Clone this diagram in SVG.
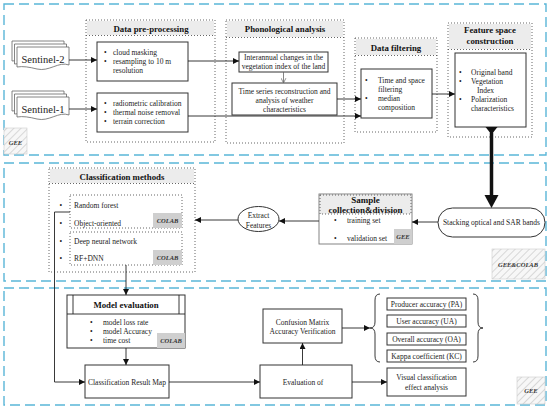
<svg xmlns="http://www.w3.org/2000/svg" width="550" height="409" viewBox="0 0 550 409">
<style>
text{font-family:"Liberation Serif","Times New Roman",serif;font-size:7.5px;fill:#222}
.t{font-weight:bold;font-size:8.8px;fill:#111}
.c{text-anchor:middle}
.sec{fill:none;stroke:#5ab6d8;stroke-width:1.4;stroke-dasharray:10 5}
.dot{fill:none;stroke:#555;stroke-width:0.9;stroke-dasharray:1 2}
.hd{fill:#ececec;stroke:none}
.bx{fill:#fff;stroke:#333;stroke-width:1}
.ln{fill:none;stroke:#222;stroke-width:0.9}
.bd{font-weight:bold;font-style:italic;font-size:6.5px;fill:#333}
.gb{fill:#cfcfcf;stroke:none}
.hb{fill:url(#hatch);stroke:#ccc;stroke-width:0.6}
.doc{fill:#fff;stroke:#666;stroke-width:0.8}
</style>
<defs>
<marker id="ar" viewBox="0 0 10 10" refX="10" refY="5" markerWidth="6" markerHeight="6" markerUnits="userSpaceOnUse" orient="auto"><path d="M0,0L10,5L0,10z" fill="#111"/></marker>
<marker id="oa" viewBox="0 0 10 10" refX="9" refY="5" markerWidth="6" markerHeight="6" markerUnits="userSpaceOnUse" orient="auto"><path d="M1,1L9,5L1,9" fill="none" stroke="#666" stroke-width="1.2"/></marker>
<pattern id="hatch" width="5" height="5" patternUnits="userSpaceOnUse" patternTransform="rotate(45)"><rect width="5" height="5" fill="#f7f7f7"/><line x1="0" y1="0" x2="0" y2="5" stroke="#cfcfcf" stroke-width="1.6"/></pattern>
<path id="docp" d="M0,0H52V18C42,14 32,25 20,22C12,20 6,19 0,20Z"/>
</defs>
<rect width="550" height="409" fill="#fff"/>

<g id="sections">
<rect class="sec" x="4" y="4" width="542" height="151"/>
<rect class="sec" x="4" y="163" width="542" height="118"/>
<rect class="sec" x="4" y="288" width="542" height="117"/>
<g id="badge-gee1"><rect class="hb" x="4" y="128" width="23" height="26"/><text class="bd" x="15.5" y="145" text-anchor="middle">GEE</text></g>
<g id="badge-geecolab"><rect class="hb" x="492" y="249" width="53" height="30"/><text class="bd" x="518" y="267" text-anchor="middle">GEE&amp;COLAB</text></g>
<g id="badge-gee3"><rect class="hb" x="517" y="377" width="28" height="27"/><text class="bd" x="531" y="393" text-anchor="middle">GEE</text></g>
</g>

<g id="sentinel2">
<use href="#docp" class="doc" x="12" y="41"/>
<use href="#docp" class="doc" x="14.5" y="44"/>
<use href="#docp" class="doc" x="17" y="47"/>
<text x="43" y="62.5" class="c" style="font-size:10.5px">Sentinel-2</text>
</g>
<g id="sentinel1">
<use href="#docp" class="doc" x="12" y="91"/>
<use href="#docp" class="doc" x="14.5" y="94"/>
<use href="#docp" class="doc" x="17" y="97"/>
<text x="43" y="112.5" class="c" style="font-size:10.5px">Sentinel-1</text>
</g>

<g id="preprocessing">
<rect class="hd" x="87" y="21" width="127" height="14"/>
<rect class="dot" x="86" y="20" width="129" height="122"/>
<line class="dot" x1="86" y1="35.5" x2="215" y2="35.5"/>
<text class="t c" x="151" y="31.5">Data pre-processing</text>
<rect class="bx" x="97" y="42" width="91" height="39"/>
<text x="104" y="55">•</text><text x="113" y="55">cloud masking</text>
<text x="104" y="64">•</text><text x="113" y="64">resampling to 10 m</text>
<text x="113" y="73">resolution</text>
<rect class="bx" x="97" y="93" width="91" height="39"/>
<text x="104" y="105.5">•</text><text x="113" y="105.5">radiometric calibration</text>
<text x="104" y="114.5">•</text><text x="113" y="114.5">thermal noise removal</text>
<text x="104" y="123.5">•</text><text x="113" y="123.5">terrain correction</text>
</g>

<g id="phonological">
<rect class="hd" x="227" y="21" width="116" height="16"/>
<rect class="dot" x="226" y="20" width="118" height="123"/>
<line class="dot" x1="226" y1="37.5" x2="344" y2="37.5"/>
<text class="t c" x="285" y="32">Phonological analysis</text>
<rect class="bx" x="239" y="52" width="89" height="20"/>
<text class="c" x="283.5" y="59.5">Interannual changes in the</text>
<text class="c" x="283.5" y="68.5">vegetation index of the land</text>
<rect class="bx" x="232" y="83" width="105" height="32"/>
<text class="c" x="284.5" y="93.5">Time series reconstruction and</text>
<text class="c" x="284.5" y="102.5">analysis of weather</text>
<text class="c" x="284.5" y="111.5">characteristics</text>
</g>

<g id="filtering">
<rect class="hd" x="356" y="39" width="80" height="16"/>
<rect class="dot" x="355" y="38" width="82" height="94"/>
<line class="dot" x1="355" y1="55.5" x2="437" y2="55.5"/>
<text class="t c" x="396" y="50.5">Data filtering</text>
<rect class="bx" x="361" y="69" width="71" height="49"/>
<text x="365" y="82.5">•</text><text x="378" y="82.5">Time and space</text>
<text x="378" y="91.5">filtering</text>
<text x="365" y="101">•</text><text x="378" y="101">median</text>
<text x="378" y="109.5">composition</text>
</g>

<g id="featurespace">
<rect class="hd" x="449" y="24" width="82" height="25"/>
<rect class="dot" x="448" y="23" width="84" height="114"/>
<line class="dot" x1="448" y1="49.5" x2="532" y2="49.5"/>
<text class="t c" x="490" y="32.5">Feature space</text>
<text class="t c" x="490" y="43.5">construction</text>
<rect class="bx" x="455" y="53" width="71" height="74"/>
<text x="459" y="74.5">•</text><text x="471" y="74.5">Original band</text>
<text x="459" y="83.5">•</text><text x="471" y="83.5">Vegetation</text>
<text x="477" y="92.5">Index</text>
<text x="459" y="101.5">•</text><text x="471" y="101.5">Polarization</text>
<text x="471" y="110.5">characteristics</text>
</g>

<g id="stacking">
<rect class="bx" x="438" y="208" width="107" height="29" rx="14.5"/>
<text class="c" x="491.5" y="225">Stacking optical and SAR bands</text>
</g>

<g id="sample">
<rect fill="#fff" stroke="#777" stroke-width="0.9" x="319" y="194" width="93" height="50"/>
<rect class="hd" x="320" y="195" width="91" height="19"/>
<rect class="dot" x="320" y="195" width="91" height="19"/>
<text class="t c" x="365.5" y="203" style="font-size:9px">Sample</text>
<text class="t c" x="365.5" y="213" style="font-size:9px">collection&amp;division</text>
<text x="334" y="223">•</text><text x="347" y="223">training set</text>
<text x="334" y="240.5">•</text><text x="347" y="240.5">validation set</text>
<rect class="gb" x="394" y="229" width="18" height="15"/>
<text class="bd c" x="403" y="239">GEE</text>
</g>

<g id="extract">
<ellipse class="bx" cx="258.5" cy="219" rx="20.5" ry="12.5"/>
<text class="c" x="258.5" y="217.5">Extract</text>
<text class="c" x="258.5" y="227.5">Features</text>
</g>

<g id="classification">
<rect class="hd" x="50" y="169" width="144" height="14"/>
<rect class="dot" x="49" y="168" width="146" height="104"/>
<line class="dot" x1="49" y1="183.5" x2="195" y2="183.5"/>
<text class="t c" x="122" y="180">Classification methods</text>
<rect class="dot" x="70" y="195" width="112" height="33"/>
<text x="59.5" y="208">•</text><text x="74" y="208">Random forest</text>
<text x="59.5" y="225.5">•</text><text x="74" y="225.5">Object-oriented</text>
<rect class="gb" x="153" y="213" width="29" height="15"/>
<text class="bd c" x="167.5" y="223">COLAB</text>
<rect class="dot" x="70" y="232" width="112" height="33"/>
<text x="59.5" y="244">•</text><text x="74" y="244">Deep neural network</text>
<text x="59.5" y="261">•</text><text x="74" y="261">RF+DNN</text>
<rect class="gb" x="153" y="250" width="29" height="15"/>
<text class="bd c" x="167.5" y="260">COLAB</text>
</g>

<g id="modeleval">
<rect class="bx" x="67" y="295" width="118" height="53"/>
<line class="ln" x1="67" y1="314" x2="185" y2="314"/>
<line class="ln" x1="73" y1="295" x2="73" y2="314"/>
<line class="ln" x1="179" y1="295" x2="179" y2="314"/>
<text class="t c" x="126" y="307.5">Model evaluation</text>
<text x="90" y="324.5">•</text><text x="103" y="324.5">model loss rate</text>
<text x="90" y="333.5">•</text><text x="103" y="333.5">model Accuracy</text>
<text x="90" y="342.5">•</text><text x="103" y="342.5">time cost</text>
<rect class="gb" x="157" y="333" width="28" height="15"/>
<text class="bd c" x="171" y="343">COLAB</text>
</g>

<g id="resultmap">
<rect class="bx" x="85" y="365" width="84" height="33"/>
<text class="c" x="127" y="384.5">Classification Result Map</text>
</g>
<g id="evaluation">
<rect class="bx" x="260" y="365" width="92" height="33"/>
<text class="c" x="303" y="384.5">Evaluation of</text>
</g>
<g id="confusion">
<rect class="bx" x="263" y="309" width="79" height="34"/>
<text class="c" x="302.5" y="324.5">Confusion Matrix</text>
<text class="c" x="302.5" y="334">Accuracy Verification</text>
</g>
<g id="pa"><rect class="bx" x="387" y="298" width="79" height="12"/><text class="c" x="426.5" y="306.5">Producer accuracy (PA)</text></g>
<g id="ua"><rect class="bx" x="387" y="315" width="79" height="12"/><text class="c" x="426.5" y="323.5">User accuracy (UA)</text></g>
<g id="oa"><rect class="bx" x="387" y="333" width="79" height="12"/><text class="c" x="426.5" y="341.5">Overall accuracy (OA)</text></g>
<g id="kc"><rect class="bx" x="387" y="350" width="79" height="12"/><text class="c" x="426.5" y="358.5">Kappa coefficient (KC)</text></g>
<g id="visual">
<rect class="bx" x="387" y="368" width="79" height="28"/>
<text class="c" x="426.5" y="380">Visual classification</text>
<text class="c" x="426.5" y="390">effect analysis</text>
</g>
<g id="braces">
<path class="ln" d="M380,294Q375,294 375,300L375,322Q375,328 370,328Q375,328 375,334L375,356Q375,362 380,362"/>
<path class="ln" d="M473,294Q478,294 478,300L478,322Q478,328 483,328Q478,328 478,334L478,356Q478,362 473,362"/>
</g>

<g id="connectors">
<line class="ln" x1="69" y1="60" x2="97" y2="60" marker-end="url(#ar)"/>
<line class="ln" x1="69" y1="109" x2="97" y2="109" marker-end="url(#ar)"/>
<line class="ln" x1="188" y1="61" x2="239" y2="61" marker-end="url(#ar)"/>
<line x1="283.5" y1="72" x2="283.5" y2="83" stroke="#666" stroke-width="0.8" marker-end="url(#oa)"/>
<line class="ln" x1="337" y1="99" x2="361" y2="99" marker-end="url(#ar)"/>
<line class="ln" x1="188" y1="116" x2="361" y2="116" marker-end="url(#ar)"/>
<line class="ln" x1="432" y1="94" x2="455" y2="94" marker-end="url(#ar)"/>
<polygon points="485.5,127 497.5,127 493.5,132 489.5,132" fill="#111"/>
<line x1="491.5" y1="130" x2="491.5" y2="197" stroke="#111" stroke-width="3.5"/>
<polygon points="484.5,195 498.5,195 491.5,208" fill="#111"/>
<line class="ln" x1="438" y1="222" x2="412" y2="222" marker-end="url(#ar)"/>
<line class="ln" x1="319" y1="221" x2="279" y2="221" marker-end="url(#ar)"/>
<line class="ln" x1="238" y1="220" x2="195" y2="220" marker-end="url(#ar)"/>
<polyline class="ln" points="70,212 54.5,212 54.5,382 85,382" marker-end="url(#ar)"/>
<line class="ln" x1="126" y1="265" x2="126" y2="295" marker-end="url(#ar)"/>
<line class="ln" x1="126" y1="348" x2="126" y2="365" marker-end="url(#ar)"/>
<line class="ln" x1="169" y1="382" x2="260" y2="382" marker-end="url(#ar)"/>
<line class="ln" x1="302.5" y1="365" x2="302.5" y2="343" marker-end="url(#ar)"/>
<line class="ln" x1="342" y1="328" x2="370" y2="328" marker-end="url(#ar)"/>
<line class="ln" x1="352" y1="382" x2="387" y2="382" marker-end="url(#ar)"/>
</g>
</svg>
